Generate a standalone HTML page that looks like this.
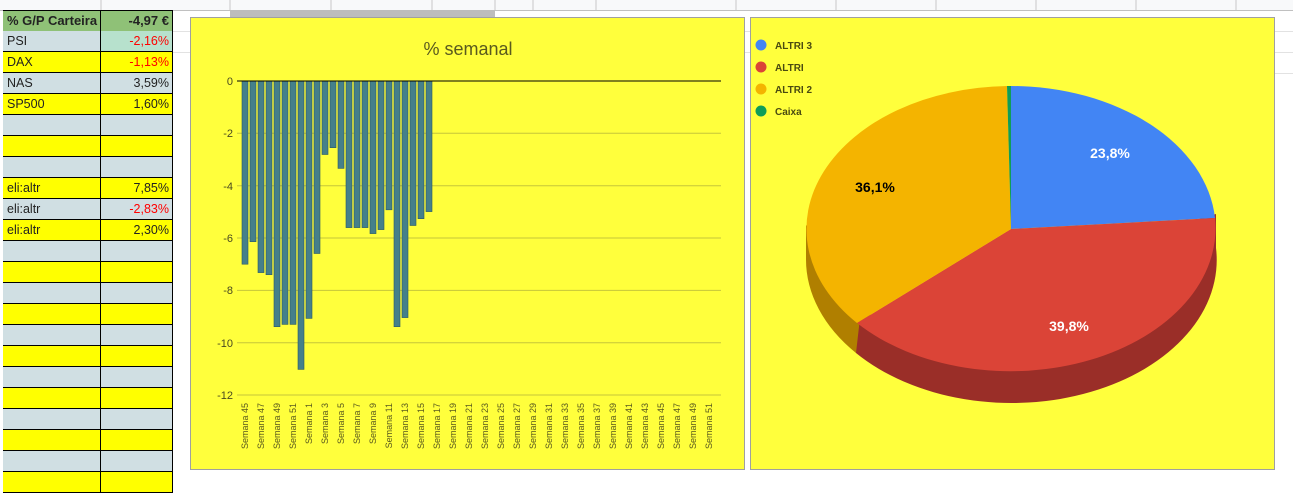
<!DOCTYPE html>
<html><head><meta charset="utf-8"><style>
body{margin:0;width:1293px;height:479px;overflow:hidden;background:#fff;font-family:"Liberation Sans",Arial,sans-serif;position:relative}
.r{position:absolute;left:3px;width:170px;height:21px;display:flex;font-size:12.5px;color:#222}
.r div{box-sizing:border-box;border-right:1px solid #000;border-bottom:1px solid #000;height:21px;line-height:20px}
.a{width:98px;padding-left:4px}.b{width:72px;text-align:right;padding-right:3px}
.g{background:#d0dfe3}.y{background:#ffff00}.red{color:#f00}
</style></head><body>
<svg width="1293" height="479" style="position:absolute;left:0;top:0">
<rect x="0" y="0" width="1293" height="10" fill="#f8f9fa"/>
<line x1="0" y1="10.5" x2="1293" y2="10.5" stroke="#c0c0c0"/>
<g stroke="#e2e2e2">
<line x1="173" y1="31.5" x2="1293" y2="31.5"/><line x1="173" y1="52.5" x2="1293" y2="52.5"/>
<line x1="1275" y1="73.5" x2="1293" y2="73.5"/>
</g>
<g stroke="#c8c8c8"><line x1="101" y1="0" x2="101" y2="10"/><line x1="230" y1="0" x2="230" y2="10"/><line x1="331" y1="0" x2="331" y2="10"/><line x1="432" y1="0" x2="432" y2="10"/><line x1="495" y1="0" x2="495" y2="10"/><line x1="533" y1="0" x2="533" y2="10"/><line x1="596" y1="0" x2="596" y2="10"/><line x1="736" y1="0" x2="736" y2="10"/><line x1="836" y1="0" x2="836" y2="10"/><line x1="936" y1="0" x2="936" y2="10"/><line x1="1036" y1="0" x2="1036" y2="10"/><line x1="1136" y1="0" x2="1136" y2="10"/><line x1="1236" y1="0" x2="1236" y2="10"/></g>
<rect x="230" y="10" width="265" height="7" fill="#bdbdbd"/>
<rect x="190.5" y="17.5" width="554" height="452" fill="#ffff3c" stroke="#a0a0a0"/>
<rect x="750.5" y="17.5" width="524" height="452" fill="#ffff3c" stroke="#a0a0a0"/>
<text x="468" y="55" text-anchor="middle" font-size="18" fill="#5a5a1e">% semanal</text>
<g stroke="#c6c63a" stroke-width="1">
<line x1="237" y1="133.3" x2="721" y2="133.3"/><line x1="237" y1="185.7" x2="721" y2="185.7"/><line x1="237" y1="238" x2="721" y2="238"/><line x1="237" y1="290.4" x2="721" y2="290.4"/><line x1="237" y1="342.7" x2="721" y2="342.7"/><line x1="237" y1="395" x2="721" y2="395"/>
</g>
<g font-size="11" fill="#4a4a20" text-anchor="end">
<text x="233" y="85">0</text><text x="233" y="137">-2</text><text x="233" y="190">-4</text><text x="233" y="242">-6</text><text x="233" y="294">-8</text><text x="233" y="347">-10</text><text x="233" y="399">-12</text>
</g>
<g id="bars" fill="#45808a" stroke="#2c5a62" stroke-width="0.6"></g>
<line x1="237" y1="81" x2="721" y2="81" stroke="#000"/>
<g id="labs" font-size="9" fill="#5a5a1e"></g>
<g>
<path d="M1216,214 L1216,248 A205,143 0 0 1 856,353 L856,319 Z" fill="#9a2e28"/>
<path d="M860,318 L856,353 A205,143 0 0 1 806,259 L806,225 Z" fill="#b07f00"/>
<path d="M1011,229 L1011,86 A205,143 0 0 1 1215,218 Z" fill="#4285f4"/>
<path d="M1011,229 L1215,218 A205,143 0 0 1 857,323 Z" fill="#db4437"/>
<path d="M1011,229 L857,323 A205,143 0 0 1 1007,86 Z" fill="#f4b400"/>
<path d="M1011,229 L1007,86 A205,143 0 0 1 1011,86 Z" fill="#0f9d58"/>
</g>
<g font-size="14" font-weight="bold" text-anchor="middle">
<text x="1110" y="158" fill="#fff">23,8%</text>
<text x="875" y="192" fill="#000">36,1%</text>
<text x="1069" y="331" fill="#fff">39,8%</text>
</g>
<g font-size="10" font-weight="bold" fill="#4a4a10">
<circle cx="761" cy="45" r="5.5" fill="#4285f4"/><text x="775" y="49">ALTRI 3</text>
<circle cx="761" cy="67" r="5.5" fill="#db4437"/><text x="775" y="71">ALTRI</text>
<circle cx="761" cy="89" r="5.5" fill="#f4b400"/><text x="775" y="93">ALTRI 2</text>
<circle cx="761" cy="111" r="5.5" fill="#0f9d58"/><text x="775" y="115">Caixa</text>
</g>
</svg>
<div class="r" style="top:10px;font-weight:bold;font-size:13px;border-top:1px solid #000"><div class="a" style="background:#8fc177">% G/P Carteira</div><div class="b" style="background:#8fc177">-4,97 €</div></div>
<div id="rows"></div>
<script>
var v=[7.0,6.14,7.32,7.4,9.39,9.3,9.3,11.02,9.07,6.59,2.81,2.55,3.34,5.6,5.6,5.6,5.83,5.68,4.92,9.39,9.04,5.52,5.26,4.99];
var s='';v.forEach(function(x,i){s+='<rect x="'+(242+8*i)+'" y="81" width="6" height="'+(x*26.17).toFixed(1)+'"/>';});
document.getElementById('bars').innerHTML=s;
var l='';for(var i=0;i<60;i+=2){var w=i<8?45+i:i-7;var cx=245+8*i;l+='<text transform="translate('+(cx+3)+',403) rotate(-90)" text-anchor="end">Semana '+w+'</text>';}
document.getElementById('labs').innerHTML=l;
var d=[['PSI','-2,16%',1],['DAX','-1,13%',1],['NAS','3,59%'],['SP500','1,60%'],['',''],['',''],['',''],['eli:altr','7,85%'],['eli:altr','-2,83%',1],['eli:altr','2,30%']];
var h='';for(var k=0;k<22;k++){var r=d[k]||['',''];var c=k%2?'y':'g';var bs=k==0?'background:#b7e1cd':'';
h+='<div class="r" style="top:'+(31+21*k)+'px"><div class="a '+c+'">'+r[0]+'</div><div class="b '+c+(r[2]?' red':'')+'" style="'+bs+'">'+r[1]+'</div></div>';}
document.getElementById('rows').innerHTML=h;
</script>
</body></html>
